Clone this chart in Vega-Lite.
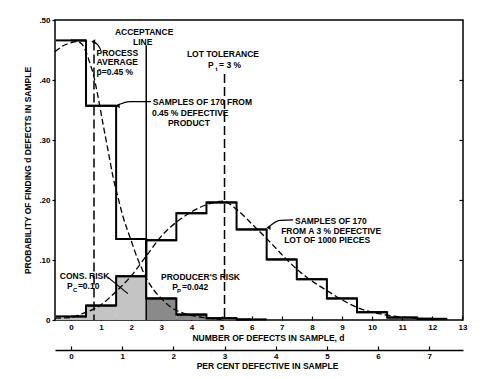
{
  "$schema": "https://vega.github.io/schema/vega-lite/v6.json",
  "width": 408,
  "height": 300,
  "autosize": {"type": "none"},
  "padding": {"left": 55, "top": 20, "right": 27, "bottom": 59},
  "background": "white",
  "config": {
    "font": "Liberation Sans",
    "view": {"stroke": "black", "strokeWidth": 1.5},
    "axis": {
      "grid": false,
      "labelFont": "Liberation Sans",
      "labelFontWeight": "bold",
      "labelFontSize": 8,
      "labelColor": "black",
      "titleFont": "Liberation Sans",
      "titleFontWeight": "bold",
      "titleFontSize": 8.5,
      "titleColor": "black",
      "tickColor": "black",
      "domainColor": "black",
      "labelFlush": false
    }
  },
  "datasets": {
    "histA": [
      {"d": 0, "lo": -0.5, "hi": 0.5, "p": 0.466, "region": "none"},
      {"d": 1, "lo": 0.5, "hi": 1.5, "p": 0.357, "region": "none"},
      {"d": 2, "lo": 1.5, "hi": 2.5, "p": 0.135, "region": "none"},
      {"d": 3, "lo": 2.5, "hi": 3.5, "p": 0.036, "region": "producer"},
      {"d": 4, "lo": 3.5, "hi": 4.5, "p": 0.009, "region": "producer"},
      {"d": 5, "lo": 4.5, "hi": 5.5, "p": 0.003, "region": "producer"},
      {"d": 6, "lo": 5.5, "hi": 6.5, "p": 0.001, "region": "producer"}
    ],
    "histB": [
      {"d": 0, "lo": -0.5, "hi": 0.5, "p": 0.006, "region": "consumer"},
      {"d": 1, "lo": 0.5, "hi": 1.5, "p": 0.024, "region": "consumer"},
      {"d": 2, "lo": 1.5, "hi": 2.5, "p": 0.073, "region": "consumer"},
      {"d": 3, "lo": 2.5, "hi": 3.5, "p": 0.133, "region": "none"},
      {"d": 4, "lo": 3.5, "hi": 4.5, "p": 0.178, "region": "none"},
      {"d": 5, "lo": 4.5, "hi": 5.5, "p": 0.196, "region": "none"},
      {"d": 6, "lo": 5.5, "hi": 6.5, "p": 0.151, "region": "none"},
      {"d": 7, "lo": 6.5, "hi": 7.5, "p": 0.101, "region": "none"},
      {"d": 8, "lo": 7.5, "hi": 8.5, "p": 0.068, "region": "none"},
      {"d": 9, "lo": 8.5, "hi": 9.5, "p": 0.036, "region": "none"},
      {"d": 10, "lo": 9.5, "hi": 10.5, "p": 0.013, "region": "none"},
      {"d": 11, "lo": 10.5, "hi": 11.5, "p": 0.004, "region": "none"},
      {"d": 12, "lo": 11.5, "hi": 12.5, "p": 0.002, "region": "none"}
    ],
    "curveA": [
      {"d": -0.53, "p": 0.447}, {"d": -0.3, "p": 0.456}, {"d": 0.0, "p": 0.462},
      {"d": 0.2, "p": 0.464}, {"d": 0.36, "p": 0.46}, {"d": 0.5, "p": 0.447},
      {"d": 0.63, "p": 0.428}, {"d": 0.73, "p": 0.412}, {"d": 0.9, "p": 0.372},
      {"d": 1.06, "p": 0.328}, {"d": 1.23, "p": 0.283}, {"d": 1.4, "p": 0.238},
      {"d": 1.56, "p": 0.205}, {"d": 1.73, "p": 0.172}, {"d": 1.96, "p": 0.138},
      {"d": 2.23, "p": 0.1}, {"d": 2.36, "p": 0.085}, {"d": 2.5, "p": 0.07},
      {"d": 2.75, "p": 0.05}, {"d": 3.0, "p": 0.036}, {"d": 3.3, "p": 0.022},
      {"d": 3.7, "p": 0.012}, {"d": 4.4, "p": 0.004}, {"d": 5.0, "p": 0.001}
    ],
    "curveB": [
      {"d": -0.53, "p": 0.003}, {"d": -0.03, "p": 0.004}, {"d": 0.4, "p": 0.011},
      {"d": 0.96, "p": 0.024}, {"d": 1.53, "p": 0.049}, {"d": 1.96, "p": 0.071},
      {"d": 2.52, "p": 0.108}, {"d": 3.06, "p": 0.143}, {"d": 3.55, "p": 0.165},
      {"d": 3.9, "p": 0.177}, {"d": 4.39, "p": 0.19}, {"d": 5.05, "p": 0.198},
      {"d": 5.51, "p": 0.184}, {"d": 6.05, "p": 0.158}, {"d": 6.61, "p": 0.13},
      {"d": 7.18, "p": 0.1}, {"d": 7.61, "p": 0.08}, {"d": 7.84, "p": 0.071},
      {"d": 8.5, "p": 0.049}, {"d": 9.5, "p": 0.021}, {"d": 10.5, "p": 0.008},
      {"d": 11.5, "p": 0.003}, {"d": 12.16, "p": 0.001}
    ],
    "refs": [
      {"name": "process average", "d": 0.765, "top": 0.464, "kind": "dashed"},
      {"name": "acceptance line", "d": 2.5, "top": 0.458, "kind": "solid"},
      {"name": "lot tolerance", "d": 5.1, "top": 0.41, "kind": "dashed"}
    ],
    "leaders": [
      {"g": "avg", "i": 0, "d": 0.72, "p": 0.464},
      {"g": "avg", "i": 1, "d": 0.9, "p": 0.458},
      {"g": "avg", "i": 2, "d": 0.99, "p": 0.45},
      {"g": "sampA", "i": 0, "d": 1.5, "p": 0.357},
      {"g": "sampA", "i": 1, "d": 1.96, "p": 0.364},
      {"g": "sampA", "i": 2, "d": 2.66, "p": 0.364},
      {"g": "sampB", "i": 0, "d": 6.54, "p": 0.154},
      {"g": "sampB", "i": 1, "d": 6.94, "p": 0.166},
      {"g": "sampB", "i": 2, "d": 7.38, "p": 0.167},
      {"g": "cons", "i": 0, "d": 1.23, "p": 0.071},
      {"g": "cons", "i": 1, "d": 1.89, "p": 0.044}
    ],
    "arrowheads": [
      {"g": "avg", "d": 0.74, "p": 0.464},
      {"g": "sampA", "d": 1.55, "p": 0.357},
      {"g": "sampB", "d": 6.56, "p": 0.154}
    ],
    "labels": [
      {"text": "ACCEPTANCE", "d": 1.46, "p": 0.48},
      {"text": "LINE", "d": 2.06, "p": 0.463},
      {"text": "PROCESS", "d": 0.85, "p": 0.445},
      {"text": "AVERAGE", "d": 0.85, "p": 0.43},
      {"text": "p̄=0.45 %", "d": 0.85, "p": 0.413},
      {"text": "LOT TOLERANCE", "d": 3.85, "p": 0.443},
      {"text": "P", "d": 4.55, "p": 0.425},
      {"text": "= 3 %", "d": 4.92, "p": 0.425},
      {"text": "SAMPLES OF 170 FROM", "d": 2.72, "p": 0.363},
      {"text": "0.45 % DEFECTIVE", "d": 2.69, "p": 0.345},
      {"text": "PRODUCT", "d": 3.22, "p": 0.328},
      {"text": "SAMPLES OF 170", "d": 7.44, "p": 0.165},
      {"text": "FROM A 3 % DEFECTIVE", "d": 6.98, "p": 0.148},
      {"text": "LOT OF 1000 PIECES", "d": 7.08, "p": 0.133},
      {"text": "CONS. RISK", "d": -0.37, "p": 0.073},
      {"text": "P", "d": -0.13, "p": 0.057},
      {"text": "=0.10", "d": 0.23, "p": 0.057},
      {"text": "PRODUCER'S RISK", "d": 2.99, "p": 0.072},
      {"text": "P", "d": 3.36, "p": 0.055},
      {"text": "=0.042", "d": 3.69, "p": 0.055}
    ],
    "subs": [
      {"text": "t", "d": 4.8, "p": 0.418},
      {"text": "C", "d": 0.07, "p": 0.05},
      {"text": "P", "d": 3.52, "p": 0.049}
    ]
  },
  "layer": [
    {
      "data": {"name": "histB"},
      "transform": [{"filter": "datum.region == 'consumer'"}],
      "mark": {"type": "rect", "fill": "#c4c4c4", "stroke": null},
      "encoding": {
        "x": {"field": "lo", "type": "quantitative",
          "scale": {"domain": [-0.53, 13.02], "nice": false, "zero": false},
          "axis": {"orient": "bottom", "values": [0,1,2,3,4,5,6,7,8,9,10,11,12,13], "format": "d", "domain": false, "tickSize": -4, "tickWidth": 1.2, "labelPadding": 7, "titlePadding": 2, "titleX": 213},
          "title": "NUMBER OF DEFECTS IN SAMPLE, d"},
        "x2": {"field": "hi"},
        "y": {"field": "p", "type": "quantitative",
          "scale": {"domain": [0, 0.5], "nice": false, "zero": true},
          "axis": {"orient": "left", "values": [0, 0.1, 0.2, 0.3, 0.4, 0.5], "labelExpr": "datum.value == 0 ? '0' : replace(format(datum.value, '.2f'), '0.', '.')", "domain": false, "tickSize": 3, "tickWidth": 1.2, "labelPadding": 2, "titlePadding": 6},
          "title": "PROBABILITY OF FINDING d DEFECTS IN SAMPLE"},
        "y2": {"datum": 0}
      }
    },
    {
      "data": {"name": "histA"},
      "transform": [{"filter": "datum.region == 'producer'"}],
      "mark": {"type": "rect", "fill": "#8a8a8a", "stroke": null},
      "encoding": {
        "x": {"field": "lo", "type": "quantitative", "axis": null},
        "x2": {"field": "hi"},
        "y": {"field": "p", "type": "quantitative", "axis": null},
        "y2": {"datum": 0}
      }
    },
    {
      "data": {"name": "curveA"},
      "mark": {"type": "line", "color": "black", "strokeWidth": 1.3, "strokeDash": [6, 3], "interpolate": "monotone"},
      "encoding": {
        "x": {"field": "d", "type": "quantitative", "axis": null},
        "y": {"field": "p", "type": "quantitative", "axis": null}
      }
    },
    {
      "data": {"name": "curveB"},
      "mark": {"type": "line", "color": "black", "strokeWidth": 1.3, "strokeDash": [6, 3], "interpolate": "monotone"},
      "encoding": {
        "x": {"field": "d", "type": "quantitative", "axis": null},
        "y": {"field": "p", "type": "quantitative", "axis": null}
      }
    },
    {
      "data": {"name": "refs"},
      "transform": [{"filter": "datum.kind == 'dashed'"}],
      "mark": {"type": "rule", "color": "black", "strokeWidth": 1.5, "strokeDash": [9, 4]},
      "encoding": {
        "x": {"field": "d", "type": "quantitative", "axis": null},
        "y": {"field": "top", "type": "quantitative", "axis": null},
        "y2": {"datum": 0}
      }
    },
    {
      "data": {"name": "refs"},
      "transform": [{"filter": "datum.kind == 'solid'"}],
      "mark": {"type": "rule", "color": "black", "strokeWidth": 1.5},
      "encoding": {
        "x": {"field": "d", "type": "quantitative", "axis": null},
        "y": {"field": "top", "type": "quantitative", "axis": null},
        "y2": {"datum": 0}
      }
    },
    {
      "data": {"name": "histA"},
      "mark": {"type": "line", "color": "black", "strokeWidth": 2, "interpolate": "step"},
      "encoding": {
        "x": {"field": "d", "type": "quantitative", "axis": null},
        "y": {"field": "p", "type": "quantitative", "axis": null}
      }
    },
    {
      "data": {"name": "histA"},
      "mark": {"type": "rule", "color": "black", "strokeWidth": 2},
      "encoding": {
        "x": {"field": "lo", "type": "quantitative", "axis": null},
        "x2": {"field": "hi"},
        "y": {"field": "p", "type": "quantitative", "axis": null}
      }
    },
    {
      "data": {"name": "histB"},
      "mark": {"type": "line", "color": "black", "strokeWidth": 2, "interpolate": "step"},
      "encoding": {
        "x": {"field": "d", "type": "quantitative", "axis": null},
        "y": {"field": "p", "type": "quantitative", "axis": null}
      }
    },
    {
      "data": {"name": "histB"},
      "mark": {"type": "rule", "color": "black", "strokeWidth": 2},
      "encoding": {
        "x": {"field": "lo", "type": "quantitative", "axis": null},
        "x2": {"field": "hi"},
        "y": {"field": "p", "type": "quantitative", "axis": null}
      }
    },
    {
      "data": {"name": "leaders"},
      "mark": {"type": "line", "color": "black", "strokeWidth": 1.2, "interpolate": "monotone"},
      "encoding": {
        "x": {"field": "d", "type": "quantitative", "axis": null},
        "y": {"field": "p", "type": "quantitative", "axis": null},
        "detail": {"field": "g"},
        "order": {"field": "i"}
      }
    },
    {
      "data": {"name": "arrowheads"},
      "mark": {"type": "point", "shape": "triangle-left", "filled": true, "color": "black", "size": 22, "opacity": 1},
      "encoding": {
        "x": {"field": "d", "type": "quantitative", "axis": null},
        "y": {"field": "p", "type": "quantitative", "axis": null}
      }
    },
    {
      "data": {"name": "labels"},
      "mark": {"type": "text", "align": "left", "baseline": "middle", "font": "Liberation Sans", "fontWeight": "bold", "fontSize": 8.5, "color": "black"},
      "encoding": {
        "x": {"field": "d", "type": "quantitative", "axis": null},
        "y": {"field": "p", "type": "quantitative", "axis": null},
        "text": {"field": "text"}
      }
    },
    {
      "data": {"name": "subs"},
      "mark": {"type": "text", "align": "left", "baseline": "middle", "font": "Liberation Sans", "fontWeight": "bold", "fontSize": 6, "color": "black"},
      "encoding": {
        "x": {"field": "d", "type": "quantitative", "axis": null},
        "y": {"field": "p", "type": "quantitative", "axis": null},
        "text": {"field": "text"}
      }
    },
    {
      "data": {"name": "refs"},
      "transform": [{"filter": "datum.kind == 'solid'"}],
      "mark": {"type": "point", "opacity": 0},
      "encoding": {
        "x": {"field": "d", "type": "quantitative",
          "axis": {"orient": "bottom", "offset": 30, "values": [0, 1.7, 3.4, 5.1, 6.8, 8.5, 10.2, 11.9], "labelExpr": "format(datum.value / 1.7, 'd')", "domain": true, "domainWidth": 1.5, "tickSize": -4, "tickWidth": 1.2, "labelPadding": 6, "titlePadding": 1, "titleX": 212},
          "title": "PER CENT DEFECTIVE IN SAMPLE"},
        "y": {"field": "top", "type": "quantitative",
          "axis": {"orient": "right", "values": [0.1, 0.2, 0.3, 0.4], "labels": false, "domain": false, "tickSize": -4, "tickWidth": 1.2, "title": null}}
      }
    }
  ],
  "resolve": {"axis": {"x": "independent", "y": "independent"}}
}
